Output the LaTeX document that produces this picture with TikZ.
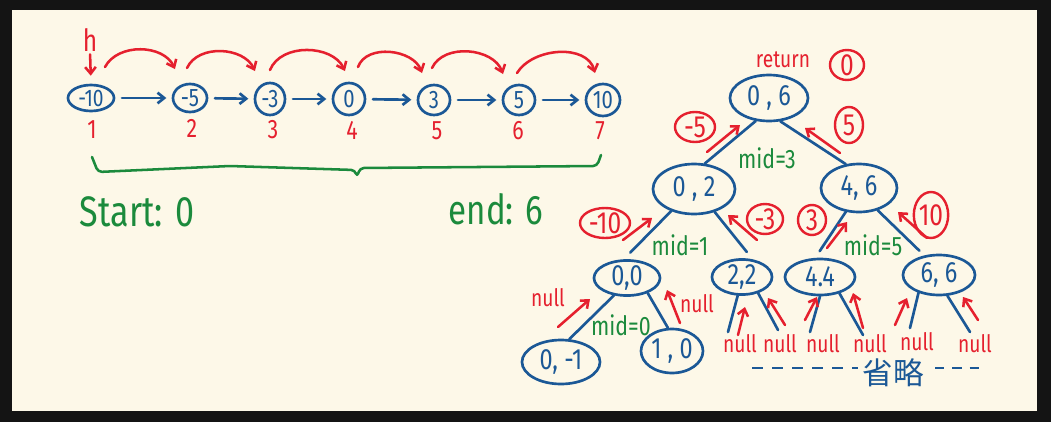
\documentclass[tikz,border=0pt]{standalone}
\usepackage{fontspec}
\setmainfont{Fira Sans}[FakeStretch=0.8]
\newfontfamily\cjkfont{Noto Sans CJK SC}
\usetikzlibrary{arrows.meta,shapes.geometric}
\definecolor{bblue}{HTML}{1B5896}
\definecolor{rred}{HTML}{E5202E}
\definecolor{ggreen}{HTML}{1B8A3C}
\definecolor{cream}{HTML}{FDF8E8}
\definecolor{darkbg}{HTML}{141414}
\newcommand\hsz[1]{\fontsize{#1}{#1}\selectfont}
\begin{document}
\begin{tikzpicture}[x=0.75pt,y=-0.75pt,
  bl/.style={draw=bblue, line width=2pt, line cap=round},
  barr/.style={bl, -{Straight Barb[length=5pt,width=8pt]}, shorten <=5pt, shorten >=4pt},
  rarr/.style={draw=rred, line width=1.9pt, line cap=round, -{Straight Barb[length=5pt,width=8pt]}},
  gline/.style={draw=ggreen, line width=1.9pt, line cap=round, line join=round},
  ell/.style 2 args={ellipse, draw=bblue, line width=2pt, inner sep=0pt,
    minimum width=#1*1.5pt, minimum height=#2*1.5pt, text=bblue},
  rell/.style 2 args={ellipse, draw=rred, line width=1.8pt, inner sep=0pt,
    minimum width=#1*1.5pt, minimum height=#2*1.5pt, text=rred, font=\hsz{23}},
  rtxt/.style={text=rred, inner sep=0pt},
  gtxt/.style={text=ggreen, inner sep=0pt},
  nulltxt/.style={rtxt, font=\hsz{18}},
  midtxt/.style={gtxt, font=\hsz{20}},
  tnode/.style={font=\hsz{22}}
]
\useasboundingbox (0,0) rectangle (1051,422);
\fill[darkbg] (0,0) rectangle (1051,422);
\fill[cream] (12,10) rectangle (1037,411);

% ---------- linked list ----------
\node[ell={23}{13}, font=\hsz{18}] (n1) at (91,98) {-10};
\node[ell={17}{14}, font=\hsz{19}] (n2) at (190,98) {-5};
\node[ell={15}{16}, font=\hsz{19}] (n3) at (270,99) {-3};
\node[ell={16}{16}, font=\hsz{19}] (n4) at (349,99) {0};
\node[ell={16}{15}, font=\hsz{19}] (n5) at (434,100) {3};
\node[ell={16}{15}, font=\hsz{19}] (n6) at (519,100) {5};
\node[ell={17}{16}, font=\hsz{19}] (n7) at (603,100) {10};
\draw[barr] (n1) -- (n2);
\draw[barr] (n2) -- (n3);
\draw[barr] (n3) -- (n4);
\draw[barr] (n4) -- (n5);
\draw[barr] (n5) -- (n6);
\draw[barr] (n6) -- (n7);

\node[rtxt, font=\hsz{23}] (h) at (90,40) {h};
\draw[rarr, shorten <=2pt, shorten >=6pt] (h.south) -- (n1.north);

\coordinate (c1s) at (105,67); \coordinate (c1e) at (175,69);
\coordinate (c2s) at (187,68); \coordinate (c2e) at (255,71);
\coordinate (c3s) at (270,70); \coordinate (c3e) at (345,71);
\coordinate (c4s) at (358,67); \coordinate (c4e) at (422,73);
\coordinate (c5s) at (432,68); \coordinate (c5e) at (503,74);
\coordinate (c6s) at (517,73); \coordinate (c6e) at (595,73);
\draw[rarr] (c1s) to[out=62,in=115] (c1e);
\draw[rarr] (c2s) to[out=65,in=115] (c2e);
\draw[rarr] (c3s) to[out=68,in=115] (c3e);
\draw[rarr] (c4s) to[out=70,in=110] (c4e);
\draw[rarr] (c5s) to[out=65,in=110] (c5e);
\draw[rarr] (c6s) to[out=58,in=105] (c6e);

\node[rtxt, font=\hsz{20}] (i1) at (92,130) {1};
\node[rtxt, font=\hsz{20}] (i2) at (192,128) {2};
\node[rtxt, font=\hsz{20}] (i3) at (273,130) {3};
\node[rtxt, font=\hsz{20}] (i4) at (352,130) {4};
\node[rtxt, font=\hsz{20}] (i5) at (437,131) {5};
\node[rtxt, font=\hsz{20}] (i6) at (518,131) {6};
\node[rtxt, font=\hsz{20}] (i7) at (600,131) {7};

% brace
\coordinate (bA) at (92,157);
\coordinate (bB) at (98,172);
\coordinate (bC) at (230,166);
\coordinate (bD) at (355,170);
\coordinate (bE) at (357,177);
\coordinate (bF) at (360,168);
\coordinate (bG) at (597,166);
\coordinate (bH) at (601,155);
\draw[gline, rounded corners=3pt] (bA) -- (bB) -- (bC) -- (bD) -- (bE) -- (bF) -- (bG) -- (bH);

\node[gtxt, font=\hsz{32}] (start) at (137,212) {Start: 0};
\node[gtxt, font=\hsz{31}] (end) at (496,209) {end: 6};

% ---------- tree ----------
\node[rtxt, font=\hsz{18}] (ret) at (783,60) {return};
\node[rell={17}{13}] (r0) at (847,65) {0};

\node[ell={39}{23}, tnode] (root) at (769,98) {0 , 6};
\node[ell={41}{25}, tnode] (L) at (694,189) {0 , 2};
\node[ell={38}{24}, tnode] (R) at (859,188) {4, 6};
\node[ell={33}{17}, tnode] (LL) at (627,278) {0,0};
\node[ell={30}{17}, tnode] (LR) at (742,277) {2,2};
\node[ell={35}{18}, tnode] (RL) at (820,277) {4.4};
\node[ell={36}{20}, tnode] (RR) at (939,275) {6, 6};
\node[ell={39}{22}, tnode] (LLL) at (561,362) {0, -1};
\node[ell={31}{22}, tnode] (LLR) at (672,351) {1 , 0};

\draw[bl] (root.240) -- (L.67);
\draw[bl] (root.296) -- (R.119);
\draw[bl, shorten >=7pt] (L.224) -- (LL.100);
\draw[bl, shorten >=7pt] (L.312) -- (LR.59);
\draw[bl, shorten >=6pt] (R.241) -- (RL.104);
\draw[bl, shorten >=5pt] (R.310) -- (RR.127);
\draw[bl] (LL.233) -- (LLL.70);
\draw[bl] (LL.324) -- (LLR.100);

\coordinate (e1) at (728,332); \coordinate (e2) at (778,330);
\coordinate (e3) at (810,332); \coordinate (e4) at (863,335);
\coordinate (e5) at (910,328); \coordinate (e6) at (970,332);
\draw[bl] (LR.257) -- (e1);
\draw[bl] (LR.315) -- (e2);
\draw[bl] (RL.270) -- (e3);
\draw[bl] (RL.320) -- (e4);
\draw[bl] (RR.221) -- (e5);
\draw[bl] (RR.292) -- (e6);

% mid labels
\node[midtxt] (m3) at (767,158) {mid=3};
\node[midtxt] (m1) at (680,245) {mid=1};
\node[midtxt] (m5) at (873,245) {mid=5};
\node[midtxt] (m0) at (621,325) {mid=0};

% circled return values
\node[rell={20}{15}] (cm5) at (695,127) {-5};
\node[rell={14}{18}] (cp5) at (849,125) {5};
\node[rell={25}{15}] (cm10) at (605,223) {-10};
\node[rell={18}{14}] (cm3) at (765,219) {-3};
\node[rell={14}{15}] (cp3) at (812,220) {3};
\node[rell={16}{23}] (cp10) at (931,215) {10};

% red return arrows
\coordinate (a1s) at (707,152); \coordinate (a1e) at (740,125);
\coordinate (a2s) at (840,153); \coordinate (a2e) at (805,128);
\coordinate (a3s) at (623,240); \coordinate (a3e) at (652,218);
\coordinate (a4s) at (757,240); \coordinate (a4e) at (728,215);
\coordinate (a5s) at (827,248); \coordinate (a5e) at (847,222);
\coordinate (a6s) at (927,238); \coordinate (a6e) at (898,212);
\coordinate (a7s) at (558,327); \coordinate (a7e) at (590,299);
\coordinate (a8s) at (680,323); \coordinate (a8e) at (667,290);
\coordinate (a9s) at (738,335); \coordinate (a9e) at (745,307);
\coordinate (a10s) at (785,325); \coordinate (a10e) at (768,298);
\coordinate (a11s) at (805,320); \coordinate (a11e) at (817,297);
\coordinate (a12s) at (863,328); \coordinate (a12e) at (853,293);
\coordinate (a13s) at (895,325); \coordinate (a13e) at (907,298);
\coordinate (a14s) at (978,320); \coordinate (a14e) at (963,297);
\draw[rarr] (a1s) -- (a1e);
\draw[rarr] (a2s) -- (a2e);
\draw[rarr] (a3s) -- (a3e);
\draw[rarr] (a4s) -- (a4e);
\draw[rarr] (a5s) -- (a5e);
\draw[rarr] (a6s) -- (a6e);
\draw[rarr] (a7s) -- (a7e);
\draw[rarr] (a8s) -- (a8e);
\draw[rarr] (a9s) -- (a9e);
\draw[rarr] (a10s) -- (a10e);
\draw[rarr] (a11s) -- (a11e);
\draw[rarr] (a12s) -- (a12e);
\draw[rarr] (a13s) -- (a13e);
\draw[rarr] (a14s) -- (a14e);

% null labels
\node[nulltxt] (nu1) at (548,298) {null};
\node[nulltxt] (nu2) at (697,304) {null};
\node[nulltxt] (nu3) at (740,344) {null};
\node[nulltxt] (nu4) at (780,344) {null};
\node[nulltxt] (nu5) at (823,344) {null};
\node[nulltxt] (nu6) at (870,344) {null};
\node[nulltxt] (nu7) at (917,342) {null};
\node[nulltxt] (nu8) at (975,344) {null};

% omitted
\coordinate (d1s) at (752,368); \coordinate (d1e) at (858,368);
\coordinate (d2s) at (935,368); \coordinate (d2e) at (984,368);
\draw[draw=bblue, line width=1.6pt, dash pattern=on 8pt off 7pt] (d1s) -- (d1e);
\draw[draw=bblue, line width=1.6pt, dash pattern=on 7pt off 6pt] (d2s) -- (d2e);
\node[text=bblue, inner sep=0pt, font=\cjkfont\hsz{23}] (sl) at (893,373) {省略};
\end{tikzpicture}
\end{document}
